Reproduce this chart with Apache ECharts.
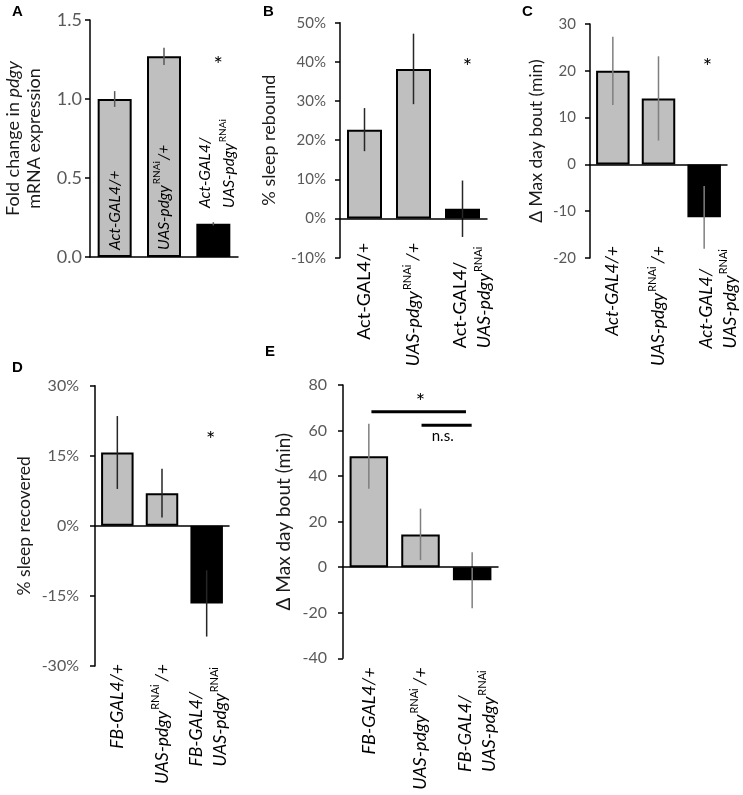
<!DOCTYPE html>
<html>
<head>
<meta charset="utf-8">
<script src="https://cdn.jsdelivr.net/npm/echarts@6/dist/echarts.min.js"></script>
<style>
html, body { margin: 0; padding: 0; background: #fff; }
#chart { width: 743px; height: 795px; }
</style>
</head>
<body>
<div id="chart"></div>
<script>
// A - knockdown efficiency
var catsA = ['Act-GAL4/+', 'UAS-pdgyRNAi/+', 'Act-GAL4/\nUAS-pdgyRNAi'];
var meanA = [1.00, 1.27, 0.21];
var errA = [0.05, 0.055, 0.01];
var ticksA = [0, 0.5, 1.0, 1.5];
var marksA = [[2.1, 1.25]];
var markTextA = ['*'];

// B - sleep rebound
var catsB = ['Act-GAL4/+', 'UAS-pdgyRNAi/+', 'Act-GAL4/\nUAS-pdgyRNAi'];
var meanB = [22.7, 38.2, 2.5];
var errB = [5.5, 9.0, 7.2];
var ticksB = [-10, 0, 10, 20, 30, 40, 50];
var marksB = [[2.1, 40]];
var markTextB = ['*'];

// C - max day bout, Act driver
var catsC = ['Act-GAL4/+', 'UAS-pdgyRNAi/+', 'Act-GAL4/\nUAS-pdgyRNAi'];
var meanC = [20.0, 14.1, -11.3];
var errC = [7.3, 9.0, 6.7];
var ticksC = [-20, -10, 0, 10, 20, 30];
var marksC = [[2.07, 21.9]];
var markTextC = ['*'];

// D - sleep recovered, FB driver
var catsD = ['FB-GAL4/+', 'UAS-pdgyRNAi/+', 'FB-GAL4/\nUAS-pdgyRNAi'];
var meanD = [15.7, 7.0, -16.6];
var errD = [7.8, 5.2, 7.1];
var ticksD = [-30, -15, 0, 15, 30];
var marksD = [[2.09, 19.5]];
var markTextD = ['*'];

// E - max day bout, FB driver
var catsE = ['FB-GAL4/+', 'UAS-pdgyRNAi/+', 'FB-GAL4/\nUAS-pdgyRNAi'];
var meanE = [48.7, 14.4, -5.7];
var errE = [14.3, 11.3, 12.3];
var ticksE = [-40, -20, 0, 20, 40, 60, 80];
var marksE = [[1.0, 74.9], [1.43, 57.7]];
var markTextE = ['*', 'n.s.'];
var sigLinesE = [[0.05, 1.88, 68.2], [1.02, 1.99, 62.3]];

var font = 'Lato';
var gray = '#bfbfbf';

var pct = function (v) { return v + '%'; };

var panels = [
    { cats: catsA, mean: meanA, err: errA, ticks: ticksA, marks: marksA, markText: markTextA,
      fmt: function (v) { return v.toFixed(1); },
      title: '{n|Fold change in }{i|pdgy}\n{n|mRNA expression}' },
    { cats: catsB, mean: meanB, err: errB, ticks: ticksB, marks: marksB, markText: markTextB,
      fmt: pct, title: '% sleep rebound', upAct: true },
    { cats: catsC, mean: meanC, err: errC, ticks: ticksC, marks: marksC, markText: markTextC,
      title: 'Δ Max day bout (min)' },
    { cats: catsD, mean: meanD, err: errD, ticks: ticksD, marks: marksD, markText: markTextD,
      fmt: pct, title: '% sleep recovered' },
    { cats: catsE, mean: meanE, err: errE, ticks: ticksE, marks: marksE, markText: markTextE,
      title: 'Δ Max day bout (min)', sig: sigLinesE }
];

// pixel layout of each panel (label margin is counted from the grid bottom)
var layouts = [
    { left: 90, top: 20, width: 148, height: 237, barW: 34, inside: true, margin: 7, pad: [8, 0, 0, 42],
      catSize: 15.5, supGap: 1, tickSize: 18, tickMargin: 8, nameSize: 18, nameGap: 45, errColor: '#595959' },
    { left: 340, top: 22.7, width: 147, height: 235, barW: 35, margin: -15, pad: [20, 0, 0, 0],
      catSize: 18, supGap: 4, tickSize: 15, tickMargin: 14, nameSize: 18, nameGap: 60, errColor: '#262626' },
    { left: 590, top: 24, width: 137, height: 234, barW: 33.5, margin: -12, pad: [28, 0, 0, 0],
      catSize: 17.5, supGap: 3, tickSize: 15, tickMargin: 14, nameSize: 17.5, nameGap: 43, errColor: '#7f7f7f' },
    { left: 95, top: 385.7, width: 134, height: 280.3, barW: 32.5, margin: -2, pad: [4, 0, 0, 0],
      catSize: 17.5, supGap: 3, tickSize: 16, tickMargin: 16, nameSize: 17.5, nameGap: 60, errColor: '#262626' },
    { left: 343, top: 385, width: 155, height: 273.3, barW: 38.5, margin: 9, pad: [10, 0, 0, 0],
      catSize: 18, supGap: 3, tickSize: 16, tickMargin: 16, nameSize: 19, nameGap: 48, errColor: '#7f7f7f' }
];

var letters = [
    { text: 'A', left: 12, top: 4 },
    { text: 'B', left: 263, top: 4 },
    { text: 'C', left: 522, top: 4 },
    { text: 'D', left: 12, top: 360 },
    { text: 'E', left: 265, top: 344 }
];

function richLabel(name, upAct) {
    return name.split('\n').map(function (line) {
        return line.split('RNAi').map(function (p) {
            if (!p) return '';
            var st = (upAct && p.indexOf('Act') === 0) ? 'n' : 'i';
            return '{' + st + '|' + p + '}';
        }).join('{s|RNAi}');
    }).join('\n');
}

function richStyles(fs, gap) {
    return {
        n: { fontFamily: font, fontSize: fs, fontStyle: 'normal', color: '#000', align: 'left', lineHeight: 24 },
        i: { fontFamily: font, fontSize: fs, fontStyle: 'italic', color: '#000', align: 'left', lineHeight: 24 },
        s: { fontFamily: font, fontSize: Math.round(fs * 0.62), fontStyle: 'normal', color: '#000', align: 'left',
             verticalAlign: 'top', lineHeight: Math.round(fs * 0.8), padding: [0, gap, 0, 1] }
    };
}

var grids = [], xAxes = [], yAxes = [], series = [];

panels.forEach(function (p, k) {
    var L = layouts[k];
    grids.push({ left: L.left, top: L.top, width: L.width, height: L.height,
                 containLabel: false, outerBoundsMode: 'none' });

    xAxes.push({
        type: 'category', gridIndex: k, z: 10,
        data: p.cats.map(function (c, i) {
            return i === p.cats.length - 1 ? { value: c, textStyle: { padding: L.pad } } : c;
        }),
        axisLine: { onZero: true, lineStyle: { color: '#000', width: 1.5 } },
        axisTick: { show: false },
        axisLabel: {
            interval: 0, rotate: 90, inside: !!L.inside, margin: L.margin,
            formatter: function (v) { return richLabel(v, p.upAct); },
            rich: richStyles(L.catSize, L.supGap)
        }
    });

    yAxes.push({
        type: 'value', gridIndex: k,
        min: p.ticks[0], max: p.ticks[p.ticks.length - 1], interval: p.ticks[1] - p.ticks[0],
        splitLine: { show: false },
        axisLine: { show: true, lineStyle: { color: '#000', width: 1.5 } },
        axisTick: { show: true, length: 5, lineStyle: { color: '#000', width: 1.5 } },
        axisLabel: { color: '#595959', fontFamily: font, fontSize: L.tickSize, margin: L.tickMargin, formatter: p.fmt },
        name: p.title, nameLocation: 'middle', nameGap: L.nameGap,
        nameTextStyle: {
            fontFamily: font, fontSize: L.nameSize, color: '#1a1a1a', lineHeight: L.nameSize + 3,
            rich: {
                n: { fontFamily: font, fontSize: L.nameSize, color: '#1a1a1a', lineHeight: L.nameSize + 3 },
                i: { fontFamily: font, fontSize: L.nameSize, color: '#1a1a1a', fontStyle: 'italic', lineHeight: L.nameSize + 3 }
            }
        }
    });

    var last = p.mean.length - 1;
    series.push({
        type: 'bar', xAxisIndex: k, yAxisIndex: k, data: p.mean, barWidth: L.barW, z: 2,
        itemStyle: {
            color: function (par) { return par.dataIndex === last ? '#000' : gray; },
            borderColor: '#000', borderWidth: 2
        }
    });

    // error bars
    series.push({
        type: 'custom', xAxisIndex: k, yAxisIndex: k, z: 5, silent: true,
        data: p.mean.map(function (m, i) { return [i, m - p.err[i], m + p.err[i]]; }),
        renderItem: function (params, api) {
            var lo = api.coord([api.value(0), api.value(1)]);
            var hi = api.coord([api.value(0), api.value(2)]);
            return { type: 'line', shape: { x1: lo[0], y1: lo[1], x2: hi[0], y2: hi[1] },
                     style: { stroke: L.errColor, lineWidth: 1.5 } };
        }
    });

    // significance marks (asterisk glyph sits high in its box, nudge it down)
    series.push({
        type: 'custom', xAxisIndex: k, yAxisIndex: k, z: 6, silent: true,
        data: p.marks,
        renderItem: function (params, api) {
            var base = api.coord([0, api.value(1)]);
            var band = api.size([1, 0])[0];
            var t = p.markText[params.dataIndex];
            var star = t === '*';
            return { type: 'text', x: base[0] + api.value(0) * band, y: base[1] + (star ? 5 : 0),
                     style: { text: t, fontFamily: font, fontSize: star ? 22 : 15, fill: '#000',
                              align: 'center', verticalAlign: 'middle' } };
        }
    });

    if (p.sig) {
        series.push({
            type: 'custom', xAxisIndex: k, yAxisIndex: k, z: 6, silent: true,
            data: p.sig,
            renderItem: function (params, api) {
                var base = api.coord([0, api.value(2)]);
                var band = api.size([1, 0])[0];
                return { type: 'line',
                         shape: { x1: base[0] + api.value(0) * band, y1: base[1],
                                  x2: base[0] + api.value(1) * band, y2: base[1] },
                         style: { stroke: '#000', lineWidth: 3 } };
            }
        });
    }
});

var chart = echarts.init(document.getElementById('chart'));
chart.setOption({
    animation: false,
    backgroundColor: '#fff',
    textStyle: { fontFamily: font },
    title: letters.map(function (l) {
        return { text: l.text, left: l.left, top: l.top, padding: 0,
                 textStyle: { fontFamily: 'Liberation Sans', fontWeight: 'bold', fontSize: 15, color: '#000' } };
    }),
    grid: grids,
    xAxis: xAxes,
    yAxis: yAxes,
    series: series
});
</script>
</body>
</html>
